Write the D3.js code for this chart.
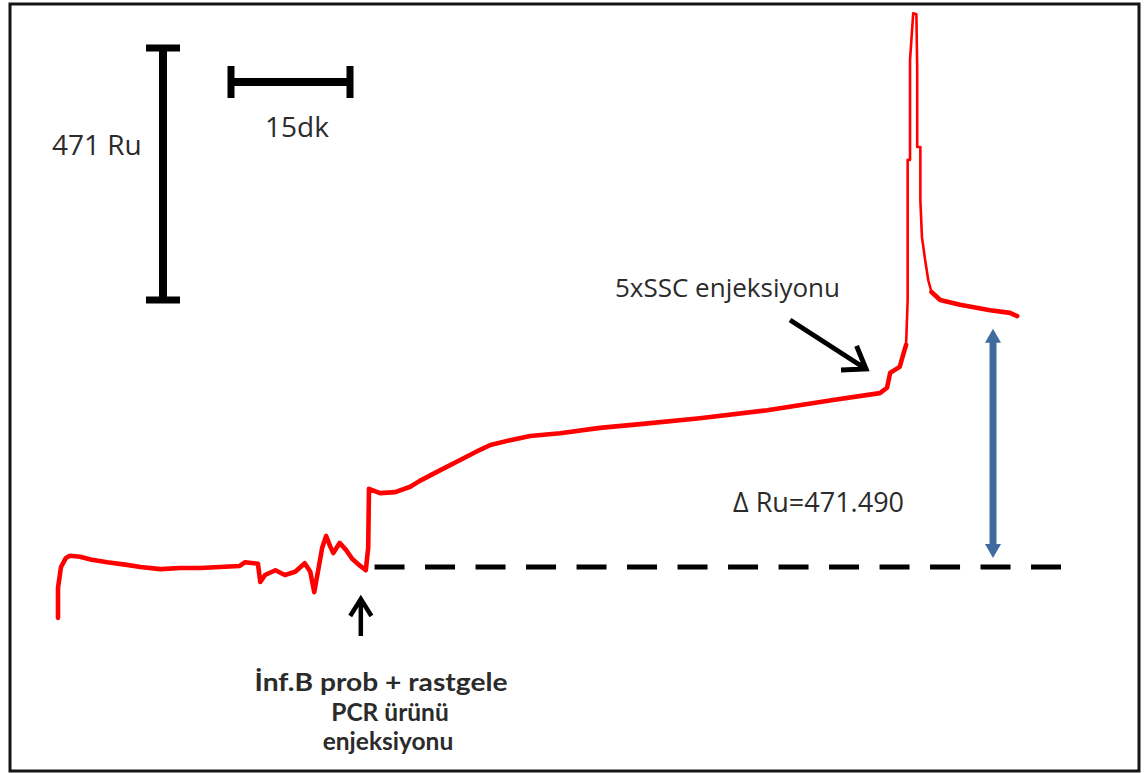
<!DOCTYPE html>
<html>
<head>
<meta charset="utf-8">
<script src="https://cdn.jsdelivr.net/npm/d3@7"></script>
<style>
  html, body { margin: 0; padding: 0; background: #fff; }
  svg { display: block; }
  text { font-family: "Open Sans", "Noto Sans", sans-serif; fill: #2b2b2b; }
  text.inj { font-family: Lato, "Open Sans", sans-serif; }
</style>
</head>
<body>
<svg id="chart" width="1144" height="773"></svg>
<script>
// ---- Data (time in minutes, response in RU) ----
const timeMin = [0, 0, 0.38, 1.0, 1.5, 2.8, 4.1, 6.2, 8.7, 10.4, 12.9, 15.4, 17.9, 20.4, 22.9, 23.6, 25.2, 25.5, 26.1, 27.4, 28.6, 29.9,
  31.1, 31.8, 32.3, 32.8, 33.3, 33.8, 34.3, 34.7, 35.5, 36.3, 37.1, 38.1, 38.8, 39.1, 39.2, 40.6, 42.5, 44.4,
  45.6, 48.2, 50.7, 53.2, 54.5, 57.0, 59.5, 63.3, 68.3, 73.4, 80.9, 89.4, 97.7, 103.6, 104.5, 104.9, 106.1,
  106.6, 106.9, 107.1, 107.1, 107.4, 107.4, 107.8, 108.2, 108.3, 108.3, 108.7, 108.7, 108.9, 109.3, 109.7,
  110.1, 111.2, 113.7, 117.5, 120.0, 120.9];
const responseRU = [-95, -39, 0, 17, 21, 19, 14, 9, 4, 0, -4, -2, -2, 0, 2, 9, 6, -28, -15, -6, -15, -9,
  7, -9, -47, -6, 36, 58, 39, 26, 45, 32, 15, 2, -6, 36, 146, 138, 140, 150,
  161, 181, 200, 219, 228, 237, 245, 250, 260, 267, 278, 293, 312, 325, 335, 363, 374,
  400, 415, 499, 761, 761, 948, 1035, 1033, 935, 785, 785, 686, 617, 574, 536,
  514, 499, 490, 480, 475, 469];

const scaleBarRU = 471;          // vertical scale bar
const scaleBarMin = 15;          // horizontal scale bar
const baselineRU = 0;
const plateauRU = 471.49;

const labelRU = "471 Ru";
const labelMin = "15dk";
const labelDelta = "\u0394 Ru=471.490";
const labelSSC = "5xSSC enjeksiyonu";
const labelInjection = ["\u0130nf.B prob + rastgele", "PCR \u00fcr\u00fcn\u00fc", "enjeksiyonu"];
const injectionTime = 38.8;      // probe + PCR product injection
const peakStart = 106.9, peakEnd = 110.1; // thin (fast) part of the trace

// ---- Scales ----
const pxPerMin = 119 / 15, pxPerRU = 252 / 471;
const x = d3.scaleLinear().domain([0, 121]).range([58, 58 + 121 * pxPerMin]);
const y = d3.scaleLinear().domain([0, 471]).range([567, 567 - 471 * pxPerRU]);

const svg = d3.select("#chart");

// outer frame
svg.append("rect").attr("x", 10).attr("y", 4).attr("width", 1129).attr("height", 767)
  .attr("fill", "none").attr("stroke", "#151515").attr("stroke-width", 3);

// baseline dashed
svg.append("line")
  .attr("x1", x(39.9)).attr("x2", 1061)
  .attr("y1", y(baselineRU)).attr("y2", y(baselineRU))
  .attr("stroke", "#000").attr("stroke-width", 5)
  .attr("stroke-dasharray", "30 20.5");

// trace
const pts = timeMin.map((t, i) => [t, responseRU[i]]);
const line = d3.line().x(d => x(d[0])).y(d => y(d[1]));
svg.append("path").datum(pts)
  .attr("d", line)
  .attr("fill", "none").attr("stroke", "#ff0000").attr("stroke-width", 2.6)
  .attr("stroke-linejoin", "round");
// slow parts drawn as a thicker (noisy) band
[pts.filter(d => d[0] <= peakStart), pts.filter(d => d[0] >= peakEnd)].forEach(seg => {
  svg.append("path").datum(seg)
    .attr("d", line)
    .attr("fill", "none").attr("stroke", "#ff0000").attr("stroke-width", 4.6)
    .attr("stroke-linejoin", "round").attr("stroke-linecap", "round");
});

// ---- scale bars ----
const vbX = 163, vbTop = 48, vbBot = vbTop + (y(0) - y(scaleBarRU));
svg.append("line").attr("x1", vbX).attr("x2", vbX).attr("y1", vbTop).attr("y2", vbBot)
  .attr("stroke", "#000").attr("stroke-width", 8);
[vbTop, vbBot].forEach(yy => svg.append("line").attr("x1", vbX - 17).attr("x2", vbX + 17)
  .attr("y1", yy).attr("y2", yy).attr("stroke", "#000").attr("stroke-width", 7));
svg.append("text").attr("x", 52).attr("y", 155).attr("font-size", 28).text(labelRU);

const hbY = 82, hbL = 231, hbR = hbL + (x(scaleBarMin) - x(0));
svg.append("line").attr("x1", hbL).attr("x2", hbR).attr("y1", hbY).attr("y2", hbY)
  .attr("stroke", "#000").attr("stroke-width", 8);
[hbL, hbR].forEach(xx => svg.append("line").attr("x1", xx).attr("x2", xx)
  .attr("y1", hbY - 16).attr("y2", hbY + 16).attr("stroke", "#000").attr("stroke-width", 7));
svg.append("text").attr("x", 265).attr("y", 137).attr("font-size", 28).text(labelMin);

// ---- arrows ----
function vArrow(x1, y1, x2, y2, len, ang, w, color) {
  const dx = x2 - x1, dy = y2 - y1, L = Math.hypot(dx, dy);
  const ux = -dx / L, uy = -dy / L;
  const a = ang * Math.PI / 180;
  const w1 = [x2 + len * (ux * Math.cos(a) - uy * Math.sin(a)), y2 + len * (ux * Math.sin(a) + uy * Math.cos(a))];
  const w2 = [x2 + len * (ux * Math.cos(-a) - uy * Math.sin(-a)), y2 + len * (ux * Math.sin(-a) + uy * Math.cos(-a))];
  svg.append("path")
    .attr("d", `M${x1},${y1}L${x2},${y2}M${w1[0]},${w1[1]}L${x2},${y2}L${w2[0]},${w2[1]}`)
    .attr("fill", "none").attr("stroke", color).attr("stroke-width", w)
    .attr("stroke-linecap", "butt").attr("stroke-linejoin", "miter");
}
// injection arrow (up)
vArrow(x(injectionTime) - 5, 636, x(injectionTime) - 5, 599, 20, 32, 4.5, "#000");
// 5xSSC arrow
vArrow(790, 320, 866, 369, 25, 35, 5, "#000");

// injection label (one multi-line text)
const injX = [381, 390, 388];
const injText = svg.append("text").attr("class", "inj").attr("text-anchor", "middle")
  .attr("font-size", 24.5).attr("font-weight", 700);
labelInjection.forEach((s, i) => {
  const t = injText.append("tspan").attr("x", injX[i]).attr("y", 691 + i * 29.5).text(s);
  if (i === 0) t.attr("textLength", 253).attr("lengthAdjust", "spacingAndGlyphs");
});
// SSC label
svg.append("text").attr("x", 615).attr("y", 297).attr("font-size", 26).text(labelSSC);

// ---- delta arrow (blue double arrow) ----
const bx = 993, bTop = y(plateauRU) + 14, bBot = y(baselineRU) - 9;
svg.append("line").attr("x1", bx).attr("x2", bx).attr("y1", bTop + 12).attr("y2", bBot - 12)
  .attr("stroke", "#3f6b9e").attr("stroke-width", 7);
svg.append("path").attr("d", `M${bx},${bTop}L${bx - 8},${bTop + 14}L${bx + 8},${bTop + 14}Z`).attr("fill", "#3f6b9e");
svg.append("path").attr("d", `M${bx},${bBot}L${bx - 8},${bBot - 14}L${bx + 8},${bBot - 14}Z`).attr("fill", "#3f6b9e");

svg.append("text").attr("x", 733).attr("y", 512).attr("font-size", 27).text(labelDelta);
</script>
</body>
</html>
